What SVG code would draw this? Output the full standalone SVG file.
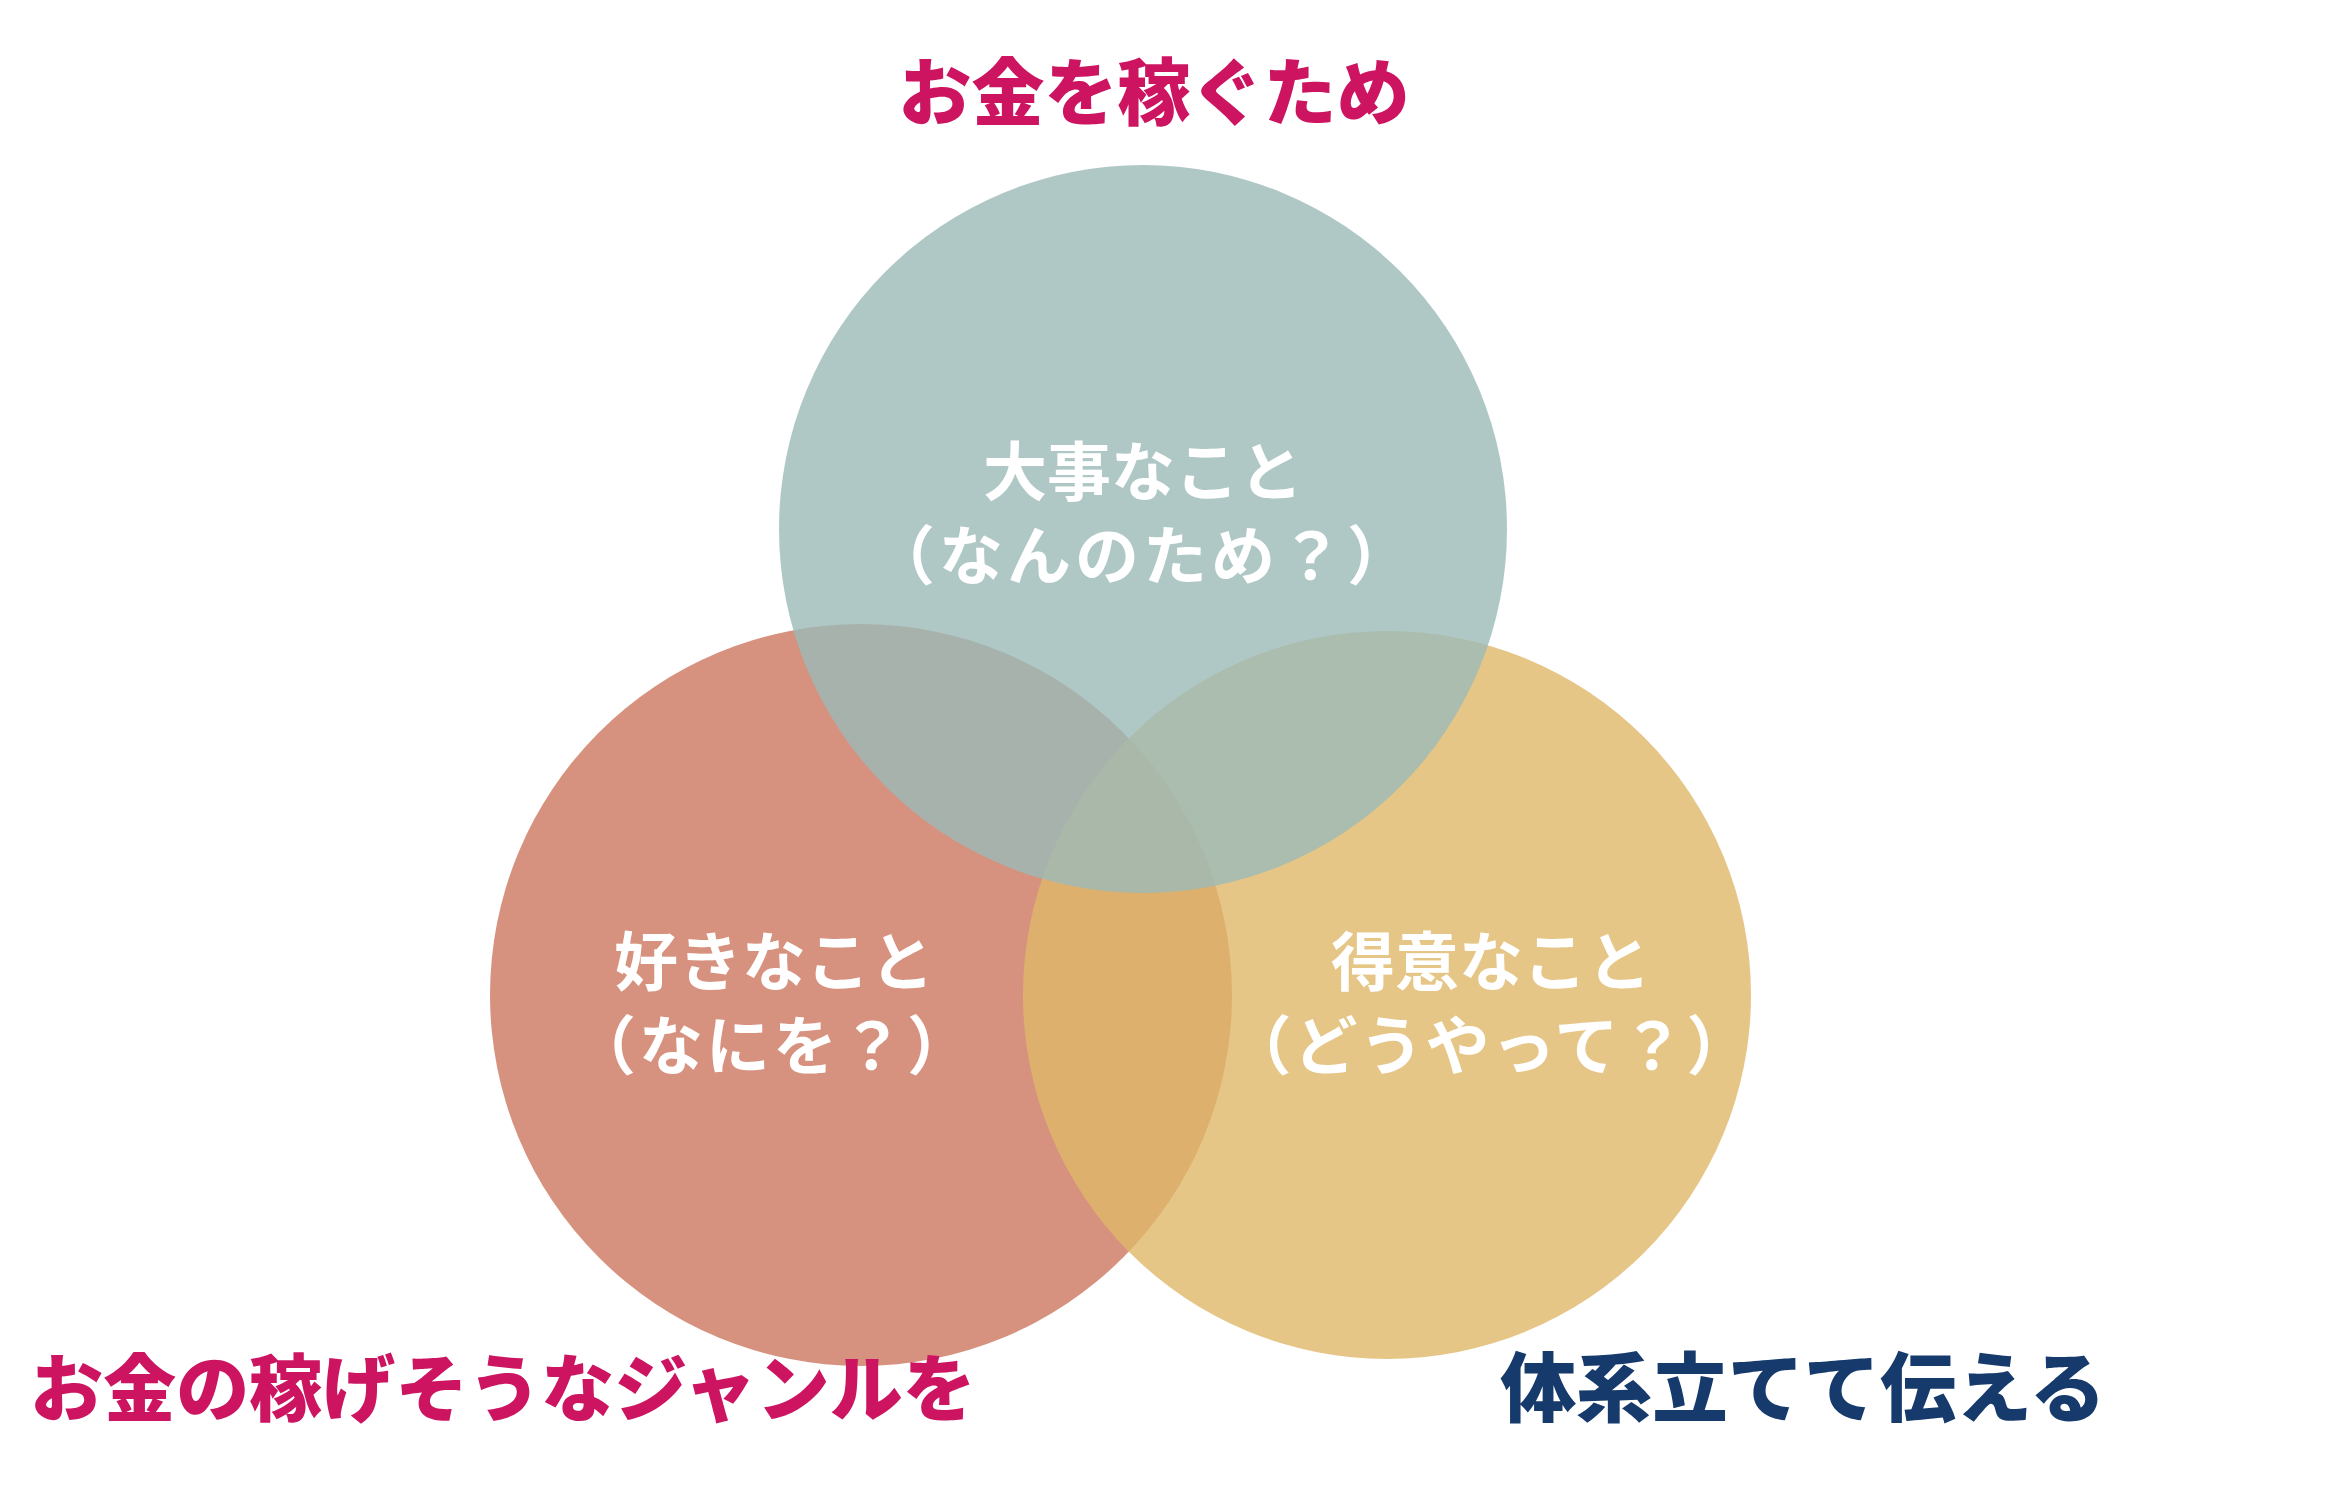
<svg xmlns="http://www.w3.org/2000/svg" width="2328" height="1494" viewBox="0 0 2328 1494">
<style>
.t{font-family:"Noto Sans CJK JP","Noto Sans CJK SC",sans-serif;font-weight:700;text-anchor:middle}
.w{fill:#FFFFFF;font-size:64px}
.pink{fill:#CC1460;font-size:73px;font-weight:900}
.navy{fill:#153A6B;font-size:76px;font-weight:900}
.c{opacity:0.8}
</style>
<rect width="2328" height="1494" fill="#FFFFFF"/>
<g id="circle-left"><circle class="c" cx="861" cy="995" r="371" fill="#CC775F"/></g>
<g id="circle-right"><circle class="c" cx="1387" cy="995" r="364" fill="#E0B869"/></g>
<g id="circle-top"><circle class="c" cx="1143" cy="529" r="364" fill="#9BBAB8"/></g>
<g id="connectors"></g>
<g id="label-top">
<text class="t w" x="1143" y="495">大事なこと</text>
<text class="t w" x="1143" y="579" letter-spacing="4">（なんのため？）</text>
</g>
<g id="label-left">
<text class="t w" x="774" y="985">好きなこと</text>
<text class="t w" x="773" y="1069" letter-spacing="3">（なにを？）</text>
</g>
<g id="label-right">
<text class="t w" x="1491" y="985">得意なこと</text>
<text class="t w" x="1490" y="1069" letter-spacing="2">（どうやって？）</text>
</g>
<g id="title-top"><text class="t pink" x="1154" y="119">お金を稼ぐため</text></g>
<g id="title-bottom-left"><text class="t pink" x="503" y="1415">お金の稼げそうなジャンルを</text></g>
<g id="title-bottom-right"><text class="t navy" x="1803" y="1416">体系立てて伝える</text></g>
</svg>
